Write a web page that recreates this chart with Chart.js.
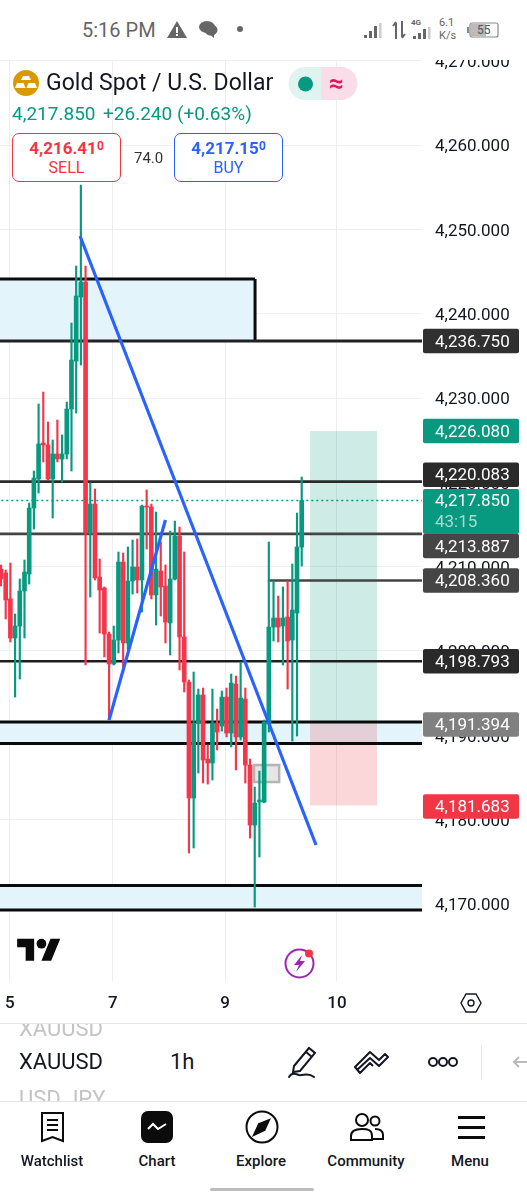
<!DOCTYPE html>
<html>
<head>
<meta charset="utf-8">
<title>XAUUSD 1h</title>
<script src="https://cdn.jsdelivr.net/npm/chart.js@4"></script>
<style>
html, body { margin: 0; padding: 0; background: #fff; }
body { width: 527px; height: 1200px; overflow: hidden; position: relative; font-family: Roboto, sans-serif; color: #131722; }
.abs { position: absolute; white-space: nowrap; line-height: 1; }
svg { position: absolute; overflow: visible; }
#chartBox { position: absolute; left: 0; top: 60px; width: 527px; height: 963px; }
.quote { position: absolute; top: 133px; width: 107px; height: 47px; border: 1.5px solid; border-radius: 7px; background: #fff; text-align: center; }
.quote b { display: block; font-size: 17px; font-weight: 700; margin-top: 5px; line-height: 18px; }
.quote b sup { font-size: 12px; line-height: 0; vertical-align: 4px; }
.quote span { display: block; font-size: 16px; line-height: 18px; margin-top: 2px; }
.nav { position: absolute; top: 1153px; width: 100px; text-align: center; font-size: 15px; font-weight: 500; line-height: 16px; }
.fade { color: #c4c4c4; font-size: 22px; left: 19px; }
</style>
</head>
<body>

<div id="chartBox"><canvas id="goldChart" width="527" height="963"></canvas></div>

<!-- status bar -->
<div class="abs" style="left:82px;top:20px;font-size:20px;color:#666">5:16 PM</div>
<svg style="left:167px;top:20px" width="20" height="18"><path d="M10 1 L20 18 L0 18 Z" fill="#666"/><rect x="9" y="7" width="2" height="6" fill="#fff"/><rect x="9" y="14" width="2" height="2" fill="#fff"/></svg>
<svg style="left:199px;top:20px" width="20" height="18"><ellipse cx="8" cy="7" rx="8" ry="6" fill="#666"/><ellipse cx="12" cy="10" rx="6.5" ry="5.5" fill="#666"/><path d="M10 14 L15 18 L15 13 Z" fill="#666"/></svg>
<svg style="left:237px;top:26px" width="8" height="8"><circle cx="3" cy="3" r="3" fill="#666"/></svg>
<svg style="left:364px;top:22px" width="20" height="17" fill="#666"><rect x="0" y="13" width="3" height="3"/><rect x="5" y="9" width="3" height="7"/><rect x="10" y="4" width="3" height="12"/><rect x="15" y="1" width="2.5" height="15" fill="#ccc"/></svg>
<svg style="left:392px;top:21px" width="14" height="18" stroke="#666" stroke-width="2" fill="none"><path d="M4 18 V2 M1 5 L4 1 M10 0 V16 M13 13 L10 17"/></svg>
<div class="abs" style="left:411px;top:19px;font-size:8px;font-weight:700;color:#666">4G</div>
<svg style="left:413px;top:27px" width="20" height="12" fill="#666"><rect x="0" y="9" width="3" height="3"/><rect x="5" y="6" width="3" height="6"/><rect x="10" y="2" width="3" height="10"/><rect x="15" y="0" width="2.5" height="12" fill="#ccc"/></svg>
<div class="abs" style="left:439px;top:17px;font-size:11px;color:#666">6.1</div>
<div class="abs" style="left:439px;top:30px;font-size:11px;color:#666">K/s</div>
<svg style="left:467px;top:22px" width="32" height="16"><rect x="3" y="1" width="28" height="14" rx="2" fill="none" stroke="#888" stroke-width="1.2"/><rect x="4" y="2" width="15" height="12" fill="#bbb"/><rect x="0" y="5" width="2" height="6" fill="#888"/></svg>
<div class="abs" style="left:477px;top:24px;font-size:12px;color:#555">55</div>

<!-- symbol header -->
<svg style="left:13px;top:70px" width="26" height="26"><circle cx="13" cy="13" r="13" fill="#d99a00"/><path d="M10 6 H16 L18 10 H8 Z M4 13 H10.5 L12.5 18 H2 Z M15.5 13 H22 L24 18 H13.5 Z" fill="#fff"/></svg>
<div class="abs" style="left:46px;top:71px;font-size:23px;color:#131722">Gold Spot / U.S. Dollar</div>
<svg style="left:288px;top:67px" width="71" height="33"><path d="M17 0 H33 V33 H17 A16.500 16.500 0 0 1 17 0 Z" fill="#dff3f0"/><path d="M33 0 H53 A16.500 16.500 0 0 1 53 33 H33 Z" fill="#fadde8"/><circle cx="17.500" cy="17" r="7.500" fill="#089981"/></svg>
<div class="abs" style="left:329px;top:70px;font-size:26px;font-weight:700;color:#e0195f">≈</div>
<div class="abs" style="left:12px;top:104px;font-size:19px;color:#089981">4,217.850</div>
<div class="abs" style="left:103px;top:104px;font-size:19px;color:#089981">+26.240 (+0.63%)</div>

<div class="quote" style="left:12px;border-color:#f23645;color:#f23645"><b>4,216.41<sup>0</sup></b><span>SELL</span></div>
<div class="abs" style="left:134px;top:151px;font-size:15px;color:#333">74.0</div>
<div class="quote" style="left:174px;border-color:#2962ff;color:#2962ff"><b>4,217.15<sup>0</sup></b><span>BUY</span></div>

<!-- logo and flash icon -->
<svg style="left:17px;top:934px" width="44" height="34" viewBox="0 0 36 28"><path d="M14 22H7V11H0V4h14v18zM28 22h-8l7.500-18h8L28 22z" fill="#0b0b0b"/><circle cx="20" cy="8" r="4" fill="#0b0b0b"/></svg>
<svg style="left:284px;top:948px" width="32" height="32"><circle cx="15.500" cy="15.500" r="14" fill="#fff" stroke="#9c27b0" stroke-width="2"/><path d="M18 7 L10 17 H15 L12 24 L21 13 H16 Z" fill="#9c27b0"/><circle cx="25" cy="5.500" r="4" fill="#f23645"/></svg>
<svg style="left:460px;top:993px" width="22" height="20" fill="none" stroke="#131722" stroke-width="1.400"><path d="M6 1 H16 L21 10 L16 19 H6 L1 10 Z"/><circle cx="11" cy="10" r="3"/></svg>

<!-- symbol toolbar -->
<div style="position:absolute;left:0;top:1023px;width:527px;height:1px;background:#e6e6e6"></div>
<div style="position:absolute;left:0;top:1024px;width:527px;height:14px;overflow:hidden"><div class="abs fade" style="top:-6px">XAUUSD</div></div>
<div class="abs" style="left:19px;top:1051px;font-size:22px">XAUUSD</div>
<div class="abs" style="left:170px;top:1051px;font-size:22px">1h</div>
<div style="position:absolute;left:0;top:1087px;width:527px;height:14px;overflow:hidden"><div class="abs fade" style="top:1px">USD JPY</div></div>
<svg style="left:288px;top:1046px" width="28" height="33" fill="none" stroke="#131722" stroke-width="2"><path d="M6 20 L21 2 L27 7 L12 25 L5 26 Z M18 6 L24 11"/><path d="M1 31 C4 26 8 28 11 29 C15 30 20 26 26 31" stroke-linecap="round"/></svg>
<svg style="left:355px;top:1050px" width="34" height="26" fill="none" stroke="#131722" stroke-width="2" stroke-linejoin="round"><path d="M2 20 L15 8 L24 16 L33 7 L30 4 L24 10 L15 2 L0 17 L5 23 L15 13 L18 16"/></svg>
<svg style="left:428px;top:1056px" width="30" height="12" fill="none" stroke="#131722" stroke-width="2"><circle cx="5" cy="6" r="4"/><circle cx="15" cy="6" r="4"/><circle cx="25" cy="6" r="4"/></svg>
<div style="position:absolute;left:481px;top:1045px;width:1px;height:35px;background:#e6e6e6"></div>
<svg style="left:513px;top:1056px" width="14" height="12" fill="none" stroke="#bbb" stroke-width="2"><path d="M6 1 L1 6 L6 11 M1 6 H14"/></svg>

<!-- bottom nav -->
<div style="position:absolute;left:0;top:1101px;width:527px;height:1px;background:#e6e6e6"></div>
<svg style="left:41px;top:1112px" width="23" height="30" fill="none" stroke="#0b0b0b" stroke-width="2"><path d="M1 1 H22 V29 L11.500 25 L1 29 Z M6 8 H17 M6 13 H17 M6 18 H17"/></svg>
<svg style="left:141px;top:1111px" width="32" height="32"><rect width="32" height="32" rx="7" fill="#0b0b0b"/><path d="M7 18 L12 13 L17 18 L25 13" fill="none" stroke="#fff" stroke-width="2"/></svg>
<svg style="left:245px;top:1110px" width="34" height="34" fill="none" stroke="#0b0b0b" stroke-width="2"><circle cx="17" cy="17" r="15.500"/><path d="M24 10 L19.500 20 L9 25 L14 14 Z" fill="#0b0b0b"/></svg>
<svg style="left:350px;top:1113px" width="34" height="28" fill="none" stroke="#0b0b0b" stroke-width="2"><circle cx="12" cy="7" r="6"/><circle cx="25" cy="8" r="4.500"/><path d="M1 27 V23 C1 17 6 16 12 16 C18 16 22 17 22 23 V27 Z M25 16 C30 16 33 18 33 22 V26 H23"/></svg>
<svg style="left:458px;top:1116px" width="28" height="23" fill="#0b0b0b"><rect width="27" height="3"/><rect y="10" width="27" height="3"/><rect y="20" width="27" height="3"/></svg>
<div class="nav" style="left:2px">Watchlist</div>
<div class="nav" style="left:107px">Chart</div>
<div class="nav" style="left:211px">Explore</div>
<div class="nav" style="left:316px">Community</div>
<div class="nav" style="left:420px">Menu</div>
<div style="position:absolute;left:210px;top:1188px;width:104px;height:3px;border-radius:2px;background:#bdbdbd"></div>

<script>
// hourly candles
const candleOpen = [4209.72,4209.25,4206.17,4201.54,4202.96,4207.11,4209.13,4216.95,4220.39,4224.66,4224.43,4220.39,4223.36,4222.77,4223.36,4228.69,4234.38,4241.97,4243.75,4213.99,4217.43,4208.77,4207.47,4202.01,4198.46,4201.30,4210.55,4200.95,4208.30,4209.96,4208.42,4217.19,4217.07,4206.64,4209.48,4207.71,4203.32,4208.54,4213.63,4201.66,4196.32,4182.57,4191.46,4194.78,4187.19,4186.71,4191.46,4191.10,4194.54,4190.27,4196.08,4189.80,4194.30,4186.48,4179.36,4182.09,4182.09,4191.34,4202.84,4203.91,4202.96,4204.03,4201.30,4204.50,4212.33];
const candleHigh = [4210.20,4209.60,4210.43,4204.39,4208.54,4210.79,4217.55,4221.34,4229.29,4230.71,4227.15,4225.02,4227.39,4225.61,4229.52,4238.89,4245.65,4255.25,4245.65,4219.92,4219.21,4210.91,4207.60,4202.25,4202.96,4211.74,4211.62,4212.33,4213.16,4213.28,4217.30,4219.09,4217.43,4216.48,4212.92,4210.20,4214.23,4215.41,4214.70,4211.74,4196.56,4197.51,4195.49,4195.61,4188.85,4195.49,4193.12,4195.25,4195.61,4197.27,4197.03,4198.69,4195.61,4187.19,4183.87,4185.76,4191.81,4212.92,4208.30,4206.52,4207.59,4208.30,4210.31,4216.36,4220.63];
const candleLow = [4207.71,4203.79,4201.07,4194.54,4196.68,4201.54,4207.94,4214.47,4218.73,4222.41,4220.28,4215.77,4222.41,4220.04,4222.77,4221.34,4228.22,4233.91,4198.34,4206.40,4208.42,4202.13,4199.29,4191.93,4198.34,4199.76,4197.39,4200.12,4206.75,4206.88,4204.62,4212.09,4206.17,4203.08,4204.15,4200.95,4199.53,4208.42,4197.75,4195.14,4176.05,4176.64,4185.53,4184.34,4184.22,4184.70,4188.26,4190.51,4189.80,4188.62,4185.89,4189.44,4184.34,4177.82,4169.64,4175.57,4182.00,4190.39,4201.18,4201.07,4198.34,4195.49,4189.32,4189.92,4210.07];
const candleClose = [4208.54,4206.05,4201.54,4202.96,4207.11,4209.36,4216.95,4220.51,4224.54,4224.43,4220.39,4223.36,4222.77,4223.36,4228.69,4234.50,4242.09,4243.75,4213.99,4217.43,4208.65,4207.23,4202.01,4198.46,4201.30,4210.55,4200.95,4208.30,4209.96,4208.42,4217.19,4217.07,4206.64,4209.72,4207.59,4203.43,4208.54,4213.63,4201.66,4196.32,4182.57,4191.34,4194.78,4187.07,4186.71,4191.46,4190.39,4194.54,4190.27,4196.20,4189.80,4194.42,4186.48,4179.36,4181.97,4182.33,4191.58,4202.84,4203.91,4202.84,4203.91,4201.18,4204.86,4212.33,4217.85];

const priceTicks = [4170,4180,4190,4200,4210,4220,4230,4240,4250,4260,4270];
const dayLabels = ['5','7','9','10'];
const dayTicks = [1.9,23.8,47.7,71.5];

// drawn levels: value, first candle, last candle
const levelValues = [4244.11,4236.75,4220.083,4213.887,4208.36,4198.793,4191.58,4189.03,4172.19,4169.29];
const levelFrom = [-1,-1,-1,-1,56.8,-1,-1,-1,-1,-1];
const levelTo = [54.07,89.6,89.6,89.6,89.6,89.6,89.6,89.6,89.6,89.6];
const levelColors = ['#0b0b0b','#222','#2a2a2a','#444','#444','#1e1e1e','#0b0b0b','#0b0b0b','#0b0b0b','#0b0b0b'];

const zoneTop = [4244.11,4191.58,4172.19];
const zoneBottom = [4236.75,4189.03,4169.29];
const zoneEnd = [54.07,89.6,89.6];

const trendDown = [{x:16.82,y:4249.21},{x:67.05,y:4176.99}];
const trendUp = [{x:22.99,y:4191.81},{x:35.0,y:4215.53}];

const lastPrice = 4217.85;
const targetPrice = 4226.08;
const entryPrice = 4191.394;
const stopPrice = 4181.683;
const positionFrom = 65.77;
const positionTo = 80.03;
const boxFrom = 53.85;
const boxTo = 59.2;
const boxTop = 4186.48;
const boxBottom = 4184.46;

const tagValues = [4236.75,4226.08,4220.083,4213.887,4208.36,4198.793,4191.394,4181.683,4217.85];
const tagColors = ['#303030','#089981','#2a2a2a','#454545','#454545','#2a2a2a','#808080','#f23645','#089981'];
const tagShift = [0,0,-7,12,0,0,1,1,11];

const GREEN = '#089981';
const RED = '#f5364a';
const candleIdx = candleOpen.map((v, i) => i);
const candleColors = candleIdx.map(i => candleClose[i] >= candleOpen[i] ? GREEN : RED);
const money = v => v.toLocaleString('en-US', {minimumFractionDigits: 3, maximumFractionDigits: 3});
const noPadding = s => { s.paddingTop = 0; s.paddingBottom = 0; s.paddingLeft = 0; s.paddingRight = 0; };

function levelDataset(i) {
    return {
        type: 'line',
        data: [{x: levelFrom[i], y: levelValues[i]}, {x: levelTo[i], y: levelValues[i]}],
        borderColor: levelColors[i],
        borderWidth: i === 2 || i === 3 || i === 4 || i === 5 ? 2.6 : 3,
        pointRadius: 0,
        order: 10
    };
}

// digits sit a bit high on textBaseline middle, nudge the axis labels down
const labelNudgePlugin = {
    id: 'labelNudge',
    beforeDraw(chart) {
        chart.scales.y.getLabelItems(chart.chartArea).forEach(item => {
            if (!item.nudged) {
                item.options.translation[1] += 2;
                item.nudged = true;
            }
        });
    }
};

// zones, position tool and the little box go under the candles
const backdropPlugin = {
    id: 'backdrop',
    beforeDatasetsDraw(chart) {
        const {ctx, scales: {x, y}} = chart;
        const fillBox = (x0, x1, top, bottom, color) => {
            ctx.fillStyle = color;
            ctx.fillRect(x.getPixelForValue(x0), y.getPixelForValue(top), x.getPixelForValue(x1) - x.getPixelForValue(x0), y.getPixelForValue(bottom) - y.getPixelForValue(top));
        };
        zoneTop.forEach((t, i) => fillBox(-1, zoneEnd[i], t, zoneBottom[i], '#e3f5fa'));
        fillBox(positionFrom, positionTo, targetPrice, entryPrice, 'rgba(8,153,129,0.2)');
        fillBox(positionFrom, positionTo, entryPrice, stopPrice, 'rgba(242,54,69,0.2)');
        fillBox(boxFrom, boxTo, boxTop, boxBottom, '#e6e6e6');
        ctx.strokeStyle = '#b4b4b4';
        ctx.lineWidth = 2.5;
        ctx.strokeRect(x.getPixelForValue(boxFrom), y.getPixelForValue(boxTop), x.getPixelForValue(boxTo) - x.getPixelForValue(boxFrom), y.getPixelForValue(boxBottom) - y.getPixelForValue(boxTop));
    }
};

const tagPlugin = {
    id: 'priceTags',
    afterDraw(chart) {
        const {ctx, scales: {y}} = chart;
        ctx.save();
        ctx.textBaseline = 'middle';
        ctx.textAlign = 'left';
        tagValues.forEach((v, i) => {
            const mid = y.getPixelForValue(v) + tagShift[i];
            const isLast = v === lastPrice;
            const h = isLast ? 45 : 24.5;
            ctx.fillStyle = tagColors[i];
            ctx.beginPath();
            ctx.roundRect(423, mid - h / 2, 96, h, 2);
            ctx.fill();
            ctx.fillStyle = '#fff';
            ctx.font = '17px Roboto';
            ctx.fillText(money(v), 435, isLast ? mid - 10 : mid + 1.5);
            if (isLast) {
                ctx.fillStyle = '#a5dcd2';
                ctx.fillText('43:15', 435, mid + 11);
            }
        });
        ctx.restore();
    }
};

const chart = new Chart('goldChart', {
    type: 'bar',
    data: {
        datasets: [
            ...levelValues.map((v, i) => levelDataset(i)),
            {
                type: 'line',
                data: [{x: levelTo[0], y: levelValues[0]}, {x: levelTo[0], y: levelValues[1]}],
                borderColor: '#0b0b0b',
                borderWidth: 3,
                pointRadius: 0,
                order: 10
            },
            {
                type: 'line',
                data: [{x: -1, y: lastPrice}, {x: 89.6, y: lastPrice}],
                borderColor: GREEN,
                borderWidth: 1.5,
                borderDash: [2, 3],
                pointRadius: 0,
                order: 9
            },
            {
                data: candleIdx.map(i => ({x: i, y: [candleLow[i], candleHigh[i]]})),
                backgroundColor: candleColors,
                barThickness: 1.5,
                grouped: false,
                order: 5
            },
            {
                data: candleIdx.map(i => ({x: i, y: [candleOpen[i], candleClose[i]]})),
                backgroundColor: candleColors,
                barThickness: 4,
                minBarLength: 1,
                grouped: false,
                order: 4
            },
            {type: 'line', data: trendDown, borderColor: '#2962ff', borderWidth: 3.2, pointRadius: 0, order: 1},
            {type: 'line', data: trendUp, borderColor: '#2962ff', borderWidth: 3.2, pointRadius: 0, order: 1}
        ]
    },
    options: {
        responsive: false,
        animation: false,
        layout: {padding: 0},
        plugins: {legend: {display: false}, tooltip: {enabled: false}},
        scales: {
            x: {
                type: 'linear',
                offset: false,
                min: -0.213,
                max: 89.6,
                grid: {color: '#eceef1', offset: false, drawTicks: false},
                border: {display: false},
                afterBuildTicks: s => { s.ticks = dayTicks.map(v => ({value: v})); },
                afterFit: s => { s.height = 41; noPadding(s); },
                ticks: {
                    padding: 12,
                    maxRotation: 0,
                    autoSkip: false,
                    color: '#131722',
                    font: {family: 'Roboto', size: 17, weight: '500'},
                    callback: (v, i) => dayLabels[i]
                }
            },
            y: {
                position: 'right',
                min: 4160.75,
                max: 4270.08,
                grid: {color: '#eef0f3', drawTicks: false},
                border: {display: false},
                afterBuildTicks: s => { s.ticks = priceTicks.map(v => ({value: v})); },
                afterFit: s => { s.width = 105; noPadding(s); },
                ticks: {
                    padding: 13,
                    autoSkip: false,
                    color: '#131722',
                    font: {family: 'Roboto', size: 17},
                    callback: v => money(v)
                }
            }
        }
    },
    plugins: [labelNudgePlugin, backdropPlugin, tagPlugin]
});
</script>
</body>
</html>
